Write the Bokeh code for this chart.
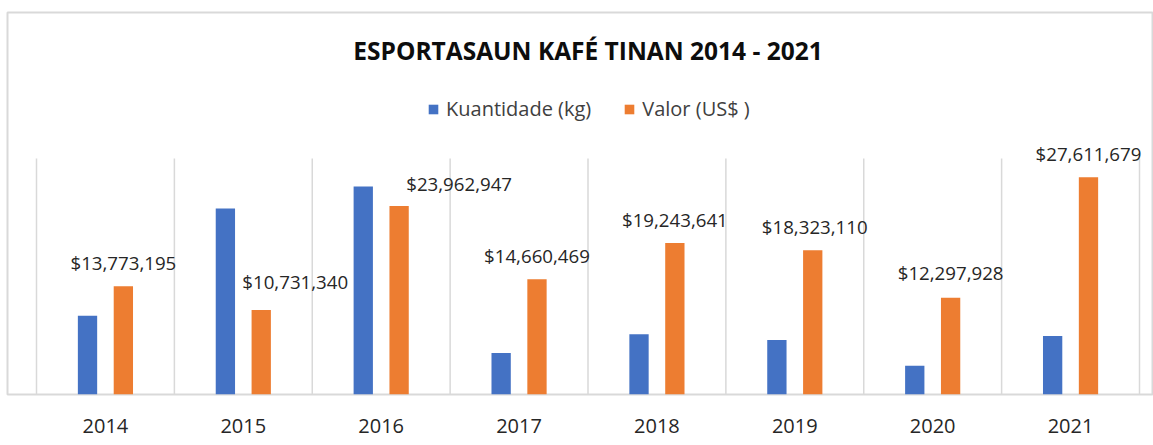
import numpy as np
from bokeh.plotting import figure
from bokeh.models import Range1d, FixedTicker, Label, Legend, LegendItem, ColumnDataSource
from bokeh.core.properties import value
from bokeh.transform import dodge
from bokeh.embed import file_html
from bokeh.resources import INLINE

# ---- data ----
years = ["2014", "2015", "2016", "2017", "2018", "2019", "2020", "2021"]
kuantidade_kg = [10_000_000, 23_630_000, 26_430_000, 5_290_000,
                 7_670_000, 6_940_000, 3_670_000, 7_450_000]
valor_usd = [13_773_195, 10_731_340, 23_962_947, 14_660_469,
             19_243_641, 18_323_110, 12_297_928, 27_611_679]
axis_max = 30_000_000

# manual nudges of the value labels (screen px)
label_dx = [0, 34, 60, 0, 0, 2, 0, 0]
label_dy = [-24, -29, -22, -24, -24, -24, -25, -24]

# ---- layout (page pixels) ----
W, H = 1153, 445
frame_left, frame_top, frame_bottom = 7, 12, 394
plot_left_px, plot_right_px = 36, 1139
n = len(years)
cat_px = (plot_right_px - plot_left_px) / n
x_start = -0.5 - (plot_left_px - frame_left) / cat_px
x_end = n - 0.5 + (W - plot_right_px) / cat_px
frame_h = frame_bottom - frame_top
axis_px = 236
y_end = axis_max * frame_h / axis_px

BLUE = "#4472C4"
ORANGE = "#ED7D31"
GRID = "#d9d9d9"
FONT = "Open Sans"

p = figure(width=W, height=H, output_backend="svg", toolbar_location=None,
           x_range=Range1d(x_start, x_end), y_range=Range1d(0, y_end),
           y_axis_location=None,
           min_border_left=frame_left, min_border_right=0,
           min_border_top=frame_top, min_border_bottom=H - frame_bottom)
p.xgrid.visible = False
p.ygrid.visible = False
p.outline_line_color = GRID
p.outline_line_width = 2
p.background_fill_color = "white"
p.border_fill_color = "white"

src = ColumnDataSource(dict(
    x=np.arange(n), year=years, kg=kuantidade_kg, usd=valor_usd,
    label=[f"${v:,}" for v in valor_usd], dx=label_dx, dy=label_dy))

# category separators (vertical gridlines)
bounds = np.arange(n + 1) - 0.5
p.segment(x0=bounds, y0=0, x1=bounds, y1=axis_max, line_color=GRID, line_width=1.5)

bw = 0.14
r1 = p.vbar(x=dodge("x", -0.13), top="kg", width=bw, source=src,
            fill_color=BLUE, line_color=None)
r2 = p.vbar(x=dodge("x", 0.13), top="usd", width=bw, source=src,
            fill_color=ORANGE, line_color=None)

p.text(x=dodge("x", 0.13), y="usd", text="label", x_offset="dx", y_offset="dy",
       source=src, text_align="center", text_baseline="alphabetic",
       text_font=value(FONT), text_font_size=value("18.7px"), text_color="#262626")

# x axis
ax = p.xaxis[0]
ax.ticker = FixedTicker(ticks=list(range(n)))
ax.major_label_overrides = {i: y for i, y in enumerate(years)}
ax.axis_line_color = None
ax.major_tick_line_color = None
ax.minor_tick_line_color = None
ax.major_label_text_font = FONT
ax.major_label_text_font_size = "20px"
ax.major_label_text_color = "#262626"
ax.major_label_standoff = 18

# title inside the chart box
title = Label(x=(n - 1) / 2, y=frame_bottom - 49.5, x_units="data", y_units="screen",
              text="ESPORTASAUN KAFÉ TINAN 2014 - 2021",
              text_align="center", text_baseline="alphabetic",
              text_font=FONT, text_font_style="bold", text_font_size="24.5px",
              text_color="#0d0d0d")
p.add_layout(title)

legend = Legend(items=[LegendItem(label="Kuantidade (kg)", renderers=[r1]),
                       LegendItem(label="Valor (US$ )", renderers=[r2])],
                orientation="horizontal", location=(420, 272))
legend.border_line_color = None
legend.background_fill_alpha = 0
legend.padding = 0
legend.margin = 0
legend.glyph_width = 12
legend.glyph_height = 12
legend.label_standoff = 7
legend.spacing = 32
legend.label_text_font = FONT
legend.label_text_font_size = "20px"
legend.label_text_color = "#404040"
p.add_layout(legend)

open("out.html", "w").write(file_html(p, INLINE))
